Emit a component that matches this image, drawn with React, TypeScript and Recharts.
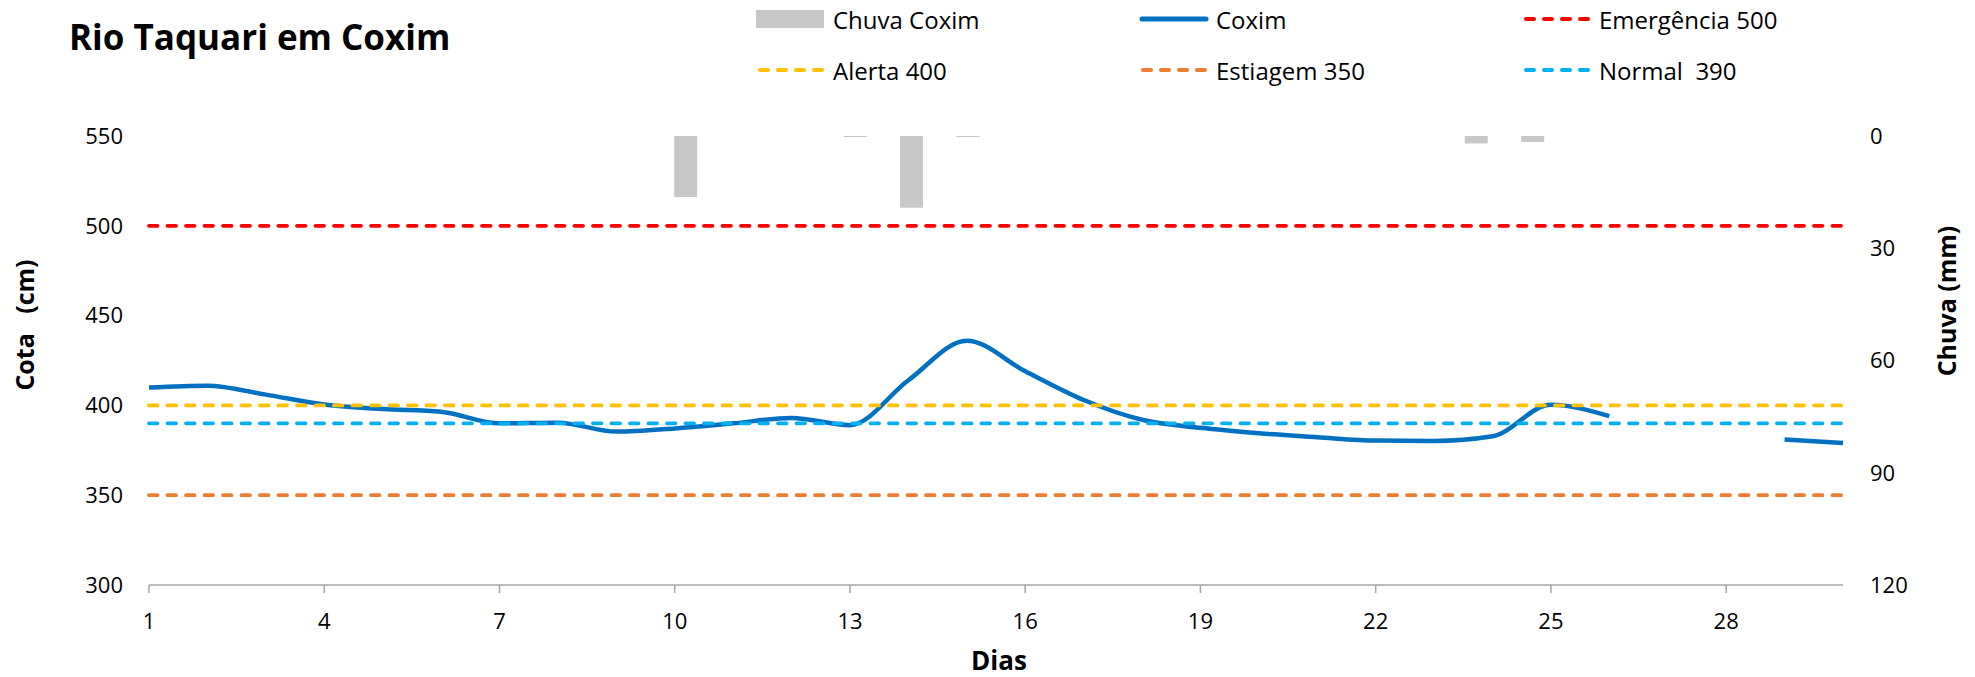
import { ComposedChart, Bar, Line, XAxis, YAxis, ReferenceLine } from "recharts";

const FONT = "'Open Sans', sans-serif";

// dias do mês
const dias = [
  1, 2, 3, 4, 5, 6, 7, 8, 9, 10, 11, 12, 13, 14, 15, 16, 17, 18, 19, 20, 21,
  22, 23, 24, 25, 26, 27, 28, 29, 30,
];

// cota do rio em Coxim (cm)
const cotaCoxim = [
  410, 411, 406, 400.5, 398, 396.5, 390, 390.4, 385.4, 387.2, 390, 393, 389,
  414, 436, 419, 403, 392, 387.5, 384.5, 382.3, 380.4, 380.2, 382.8, 400.3,
  394, null, null, 381, 379,
];

// chuva diária em Coxim (mm)
const chuvaCoxim = [
  0, 0, 0, 0, 0, 0, 0, 0, 0, 16.3, 0, 0, 0.3, 19.2, 0.3, 0, 0, 0, 0, 0, 0, 0,
  0, 2.0, 1.6, 0, 0, 0, 0, 0,
];

const diaTicks = [1, 4, 7, 10, 13, 16, 19, 22, 25, 28];
const cotaTicks = [300, 350, 400, 450, 500, 550];
const chuvaTicks = [0, 30, 60, 90, 120];

// níveis de referência
const limiteNomes = ["Emergência 500", "Alerta 400", "Estiagem 350", "Normal  390"];
const limiteValores = [500, 400, 350, 390];
const limiteCores = ["#FF0000", "#FFC000", "#ED7D31", "#00B0F0"];

const data = dias.map((d, i) => ({
  day: d,
  cota: cotaCoxim[i],
  chuva: chuvaCoxim[i],
}));

const DASH = "8.5 10";

type LegendKind = "bar" | "line" | "dash";

interface LegendItemProps {
  left: number;
  top: number;
  label: string;
  color: string;
  kind: LegendKind;
}

function LegendItem({ left, top, label, color, kind }: LegendItemProps) {
  return (
    <div
      style={{
        position: "absolute",
        left,
        top: top - 16,
        height: 32,
        display: "flex",
        alignItems: "center",
        whiteSpace: "pre",
        fontSize: 24,
        color: "#000",
      }}
    >
      <svg width={70} height={20} style={{ marginRight: 7 }}>
        {kind === "bar" && <rect x={0} y={1} width={68} height={18} fill={color} />}
        {kind === "line" && (
          <line x1={3} y1={10} x2={67} y2={10} stroke={color} strokeWidth={5} strokeLinecap="round" />
        )}
        {kind === "dash" && (
          <line
            x1={4}
            y1={10}
            x2={68}
            y2={10}
            stroke={color}
            strokeWidth={4}
            strokeDasharray="8 10"
            strokeLinecap="round"
          />
        )}
      </svg>
      {label}
    </div>
  );
}

export default function App() {
  const tickStyle = { fill: "#000", fontSize: 22, fontFamily: FONT };

  return (
    <div
      style={{
        position: "absolute",
        left: 0,
        top: 0,
        width: 1975,
        height: 677,
        background: "#fff",
        fontFamily: FONT,
        overflow: "hidden",
      }}
    >
      <ComposedChart
        width={1975}
        height={677}
        data={data}
        margin={{ top: 136, right: 0, bottom: 52, left: 0 }}
      >
        <XAxis
          xAxisId="dias"
          dataKey="day"
          type="number"
          domain={[1, 30]}
          ticks={diaTicks}
          interval={0}
          height={40}
          stroke="#A6A6A6"
          strokeWidth={1.5}
          tickSize={8}
          tickMargin={20}
          tick={tickStyle}
        />
        <XAxis xAxisId="barras" dataKey="day" type="category" height={0} hide />
        <YAxis
          yAxisId="cota"
          domain={[300, 550]}
          ticks={cotaTicks}
          interval={0}
          width={149}
          axisLine={false}
          tickLine={false}
          tickSize={0}
          tickMargin={26}
          tick={tickStyle}
        />
        <YAxis
          yAxisId="chuva"
          orientation="right"
          reversed
          domain={[0, 120]}
          ticks={chuvaTicks}
          interval={0}
          width={132}
          axisLine={false}
          tickLine={false}
          tickSize={0}
          tickMargin={27}
          tick={tickStyle}
        />
        <Bar
          xAxisId="barras"
          yAxisId="chuva"
          dataKey="chuva"
          fill="#C8C8C8"
          barSize={23}
          isAnimationActive={false}
        />
        <Line
          xAxisId="dias"
          yAxisId="cota"
          dataKey="cota"
          type="monotone"
          stroke="#0070C0"
          strokeWidth={4.5}
          dot={false}
          activeDot={false}
          isAnimationActive={false}
        />
        {limiteValores.map((v, i) => (
          <ReferenceLine
            key={limiteNomes[i]}
            xAxisId="dias"
            yAxisId="cota"
            y={v}
            stroke={limiteCores[i]}
            strokeWidth={3.8}
            strokeDasharray={DASH}
            strokeLinecap="round"
          />
        ))}
      </ComposedChart>

      {/* título */}
      <div
        style={{
          position: "absolute",
          left: 69,
          top: 13,
          fontSize: 35,
          fontWeight: 700,
          color: "#000",
          whiteSpace: "pre",
        }}
      >
        Rio Taquari em Coxim
      </div>

      {/* legenda */}
      <LegendItem left={756} top={19} label="Chuva Coxim" color="#C8C8C8" kind="bar" />
      <LegendItem left={1139} top={19} label="Coxim" color="#0070C0" kind="line" />
      <LegendItem left={1522} top={19} label={limiteNomes[0]} color={limiteCores[0]} kind="dash" />
      <LegendItem left={756} top={70} label={limiteNomes[1]} color={limiteCores[1]} kind="dash" />
      <LegendItem left={1139} top={70} label={limiteNomes[2]} color={limiteCores[2]} kind="dash" />
      <LegendItem left={1522} top={70} label={limiteNomes[3]} color={limiteCores[3]} kind="dash" />

      {/* títulos dos eixos */}
      <div
        style={{
          position: "absolute",
          left: 24,
          top: 325,
          transform: "translate(-50%, -50%) rotate(-90deg)",
          fontSize: 25,
          fontWeight: 700,
          whiteSpace: "pre",
          color: "#000",
        }}
      >
        Cota   (cm)
      </div>
      <div
        style={{
          position: "absolute",
          left: 1946,
          top: 301,
          transform: "translate(-50%, -50%) rotate(-90deg)",
          fontSize: 25,
          fontWeight: 700,
          whiteSpace: "pre",
          color: "#000",
        }}
      >
        Chuva (mm)
      </div>
      <div
        style={{
          position: "absolute",
          left: 999,
          top: 660,
          transform: "translate(-50%, -50%)",
          fontSize: 26,
          fontWeight: 700,
          color: "#000",
        }}
      >
        Dias
      </div>
    </div>
  );
}
